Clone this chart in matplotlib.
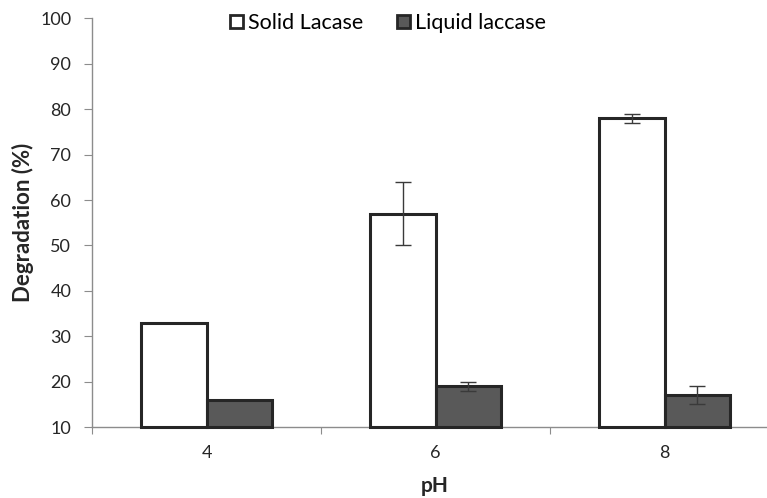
import numpy as np
import matplotlib
matplotlib.use('Agg')
import matplotlib.pyplot as plt
from matplotlib.patches import Patch

ph_labels = ['4', '6', '8']
solid = [33, 57, 78]
solid_err = [0, 7, 1]
liquid = [16, 19, 17]
liquid_err = [0, 1, 2]

plt.rcParams['font.family'] = ['Lato', 'DejaVu Sans']

EDGE = '#262626'
DARK = '#595959'
AXIS = '#8c8c8c'

W, H = 767, 498
fig = plt.figure(figsize=(W / 100, H / 100), dpi=100)
ax = fig.add_axes([92 / W, 1 - 427 / H, 1 - 92 / W, (427 - 18.5) / H])

x = np.arange(len(ph_labels))
bw = 0.286
base = 10
ax.bar(x - bw / 2, np.array(solid) - base, bw, bottom=base, color='white',
       edgecolor=EDGE, linewidth=2.2, clip_on=False, zorder=3)
ax.bar(x + bw / 2, np.array(liquid) - base, bw, bottom=base, color=DARK,
       edgecolor=EDGE, linewidth=2.2, clip_on=False, zorder=3)

for xs, vals, errs in [(x - bw / 2, solid, solid_err), (x + bw / 2, liquid, liquid_err)]:
    for xi, v, e in zip(xs, vals, errs):
        if e > 0:
            ax.errorbar(xi, v, yerr=e, fmt='none', ecolor='#3a3a3a',
                        elinewidth=1.0, capsize=6, capthick=1.0, zorder=4)

ax.set_ylim(10, 100)
ax.set_yticks(np.arange(10, 101, 10))
ax.set_xlim(-0.5, -0.5 + (W - 92) / 229)

ax.set_xticks([-0.5, 0.5, 1.5])
ax.set_xticklabels([])
ax.set_xticks(x, minor=True)
ax.set_xticklabels(ph_labels, minor=True)
ax.tick_params(axis='x', which='major', length=5, color=AXIS, direction='out')
ax.tick_params(axis='x', which='minor', length=0, pad=13, labelsize=13, labelcolor='#262626')
ax.tick_params(axis='y', length=6, color=AXIS, pad=9, labelsize=13, labelcolor='#262626')

for s in ['top', 'right']:
    ax.spines[s].set_visible(False)
for s in ['left', 'bottom']:
    ax.spines[s].set_color(AXIS)
    ax.spines[s].set_linewidth(1.0)
ax.spines['left'].set_bounds(10, 100)

fig.text(23 / W, 1 - 222 / H, 'Degradation (%)', rotation=90, ha='center',
         va='center', fontsize=16, fontweight='bold', color='#262626')
fig.text(435 / W, 1 - 486 / H, 'pH', ha='center', va='center',
         fontsize=15, fontweight='bold', color='#262626')

handles = [Patch(facecolor='white', edgecolor=EDGE, linewidth=2.0, label='Solid Lacase'),
           Patch(facecolor=DARK, edgecolor=EDGE, linewidth=2.0, label='Liquid laccase')]
fig.legend(handles=handles, loc='center', bbox_to_anchor=(388 / W, 1 - 23 / H),
           ncol=2, frameon=False, fontsize=15.5, handlelength=0.6, handleheight=0.6,
           handletextpad=0.2, columnspacing=1.6)

fig.savefig('out.png', dpi=100, facecolor='white')
